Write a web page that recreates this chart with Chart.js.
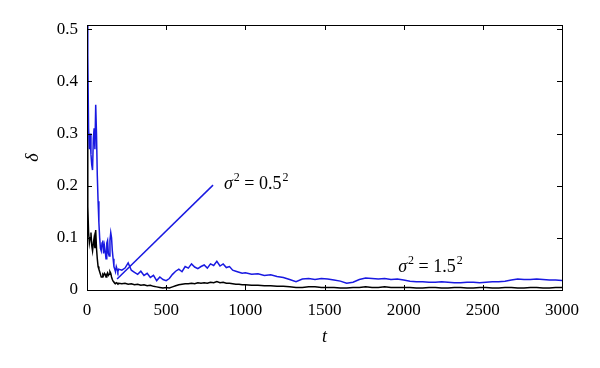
<!DOCTYPE html>
<html>
<head>
<meta charset="utf-8">
<script src="https://cdn.jsdelivr.net/npm/chart.js@4/dist/chart.umd.min.js"></script>
<style>
  body { margin: 0; background: #fff; }
  canvas { display: block; }
</style>
</head>
<body>
<canvas id="chart" width="600" height="368"></canvas>
<script>
// time steps (t)
const tEarly = [0, 5, 10, 15, 20, 25, 30, 35, 40, 45, 50, 55, 60, 65, 70, 75, 80, 85, 90, 95,
  100, 105, 110, 115, 120, 125, 130, 135, 140, 145, 150, 155, 160, 165, 170, 175, 180, 185, 190, 195, 200];
const tMid = [220, 240, 260, 280, 300, 320, 340, 360, 380, 400, 420, 440, 460, 480, 500, 520, 540, 560, 580, 600,
  620, 640, 660, 680, 700, 720, 740, 760, 780, 800, 820, 840, 860, 880, 900, 920, 940, 960, 980, 1000];
const tLate = [1040, 1080, 1120, 1160, 1200, 1240, 1280, 1320, 1360, 1400, 1440, 1480, 1520, 1560, 1600, 1640, 1680, 1720, 1760, 1800,
  1840, 1880, 1920, 1960, 2000, 2040, 2080, 2120, 2160, 2200, 2240, 2280, 2320, 2360, 2400, 2440, 2480, 2520, 2560, 2600,
  2640, 2680, 2720, 2760, 2800, 2840, 2880, 2920, 2960, 3000];
const tValues = tEarly.concat(tMid, tLate);

// delta, blue curve
const deltaBlue = [
  0.60, 0.45, 0.31, 0.27, 0.30, 0.26, 0.24, 0.23, 0.29, 0.31, 0.27, 0.355, 0.30, 0.22, 0.17, 0.13, 0.10, 0.08, 0.075, 0.09,
  0.095, 0.07, 0.085, 0.075, 0.06, 0.09, 0.095, 0.07, 0.065, 0.095, 0.11, 0.10, 0.075, 0.06, 0.045, 0.04, 0.035, 0.045, 0.04, 0.035, 0.04,
  0.038, 0.042, 0.052, 0.038, 0.034, 0.030, 0.036, 0.028, 0.032, 0.024, 0.028, 0.018, 0.025, 0.020, 0.018, 0.022, 0.030, 0.036, 0.040, 0.035,
  0.045, 0.042, 0.050, 0.044, 0.041, 0.045, 0.048, 0.042, 0.050, 0.047, 0.055, 0.046, 0.050, 0.043, 0.045, 0.038, 0.036, 0.034, 0.032, 0.033,
  0.030, 0.031, 0.028, 0.029, 0.026, 0.024, 0.020, 0.016, 0.021, 0.022, 0.020, 0.022, 0.021, 0.019, 0.017, 0.013, 0.015, 0.020, 0.023, 0.022,
  0.021, 0.022, 0.020, 0.021, 0.019, 0.017, 0.016, 0.016, 0.015, 0.015, 0.016, 0.015, 0.014, 0.014, 0.015, 0.015, 0.014, 0.015, 0.016, 0.016,
  0.017, 0.019, 0.021, 0.020, 0.020, 0.021, 0.020, 0.019, 0.019, 0.018];

// delta, black curve
const deltaBlack = [
  0.30, 0.16, 0.11, 0.09, 0.10, 0.11, 0.085, 0.075, 0.09, 0.10, 0.08, 0.115, 0.08, 0.06, 0.045, 0.04, 0.035, 0.03, 0.025, 0.025,
  0.03, 0.028, 0.032, 0.03, 0.025, 0.03, 0.033, 0.028, 0.03, 0.035, 0.032, 0.025, 0.02, 0.017, 0.015, 0.013, 0.012, 0.014, 0.013, 0.012, 0.013,
  0.012, 0.013, 0.011, 0.012, 0.010, 0.011, 0.009, 0.010, 0.008, 0.009, 0.007, 0.006, 0.005, 0.004, 0.005, 0.004, 0.006, 0.008, 0.010, 0.011,
  0.012, 0.012, 0.013, 0.012, 0.014, 0.013, 0.014, 0.013, 0.015, 0.014, 0.016, 0.014, 0.015, 0.013, 0.013, 0.012, 0.011, 0.011, 0.010, 0.010,
  0.009, 0.009, 0.008, 0.008, 0.007, 0.007, 0.006, 0.005, 0.005, 0.006, 0.006, 0.005, 0.005, 0.005, 0.004, 0.004, 0.005, 0.005, 0.006, 0.005,
  0.005, 0.006, 0.005, 0.005, 0.005, 0.005, 0.004, 0.004, 0.005, 0.005, 0.004, 0.004, 0.005, 0.005, 0.004, 0.004, 0.005, 0.005, 0.004, 0.004,
  0.005, 0.005, 0.004, 0.004, 0.005, 0.005, 0.004, 0.004, 0.005, 0.005];

// annotation pointer line and labels (data coordinates)
const pointerT = [190, 796];
const pointerDelta = [0.021, 0.201];
const labelLow = { t: 865, delta: 0.194, base: '0.5' };
const labelHigh = { t: 1965, delta: 0.034, base: '1.5' };

const xTicks = [0, 500, 1000, 1500, 2000, 2500, 3000];
const yTicks = [0, 0.1, 0.2, 0.3, 0.4, 0.5];

const FONT = '"Liberation Serif", "DejaVu Serif", serif';
const BLUE = 'rgb(25, 25, 225)';

const toPoints = (xs, ys) => xs.map((x, i) => ({ x: x, y: ys[i] }));

// MATLAB-style box with inward ticks on all four sides, plus sigma labels
const boxPlugin = {
  id: 'box',
  afterDatasetsDraw(chart) {
    const { ctx, chartArea: a, scales: { x, y } } = chart;
    ctx.save();
    ctx.strokeStyle = '#000';
    ctx.lineWidth = 1;
    ctx.strokeRect(a.left + 0.5, a.top + 0.5, a.right - a.left, a.bottom - a.top);
    ctx.beginPath();
    xTicks.forEach(v => {
      const px = Math.round(x.getPixelForValue(v)) + 0.5;
      ctx.moveTo(px, a.bottom); ctx.lineTo(px, a.bottom - 5);
      ctx.moveTo(px, a.top); ctx.lineTo(px, a.top + 5);
    });
    yTicks.forEach(v => {
      const py = Math.round(y.getPixelForValue(v)) + 0.5;
      ctx.moveTo(a.left, py); ctx.lineTo(a.left + 5, py);
      ctx.moveTo(a.right, py); ctx.lineTo(a.right - 5, py);
    });
    ctx.stroke();

    ctx.fillStyle = '#000';
    ctx.textBaseline = 'alphabetic';
    [labelLow, labelHigh].forEach(l => {
      let px = x.getPixelForValue(l.t);
      const py = y.getPixelForValue(l.delta);
      ctx.font = 'italic 18px ' + FONT;
      ctx.fillText('\u03c3', px, py);
      px += ctx.measureText('\u03c3').width;
      ctx.font = '12px ' + FONT;
      ctx.fillText('2', px + 1, py - 8);
      px += ctx.measureText('2').width + 1;
      ctx.font = '18px ' + FONT;
      const mid = ' = ' + l.base;
      ctx.fillText(mid, px, py);
      px += ctx.measureText(mid).width;
      ctx.font = '12px ' + FONT;
      ctx.fillText('2', px + 1, py - 8);
    });
    ctx.restore();
  }
};

new Chart(document.getElementById('chart'), {
  type: 'line',
  data: {
    datasets: [
      { data: toPoints(tValues, deltaBlue), borderColor: BLUE, borderWidth: 1.5, pointRadius: 0, tension: 0 },
      { data: toPoints(tValues, deltaBlack), borderColor: '#000', borderWidth: 1.5, pointRadius: 0, tension: 0 },
      { data: toPoints(pointerT, pointerDelta), borderColor: BLUE, borderWidth: 1.5, pointRadius: 0, tension: 0 }
    ]
  },
  options: {
    responsive: false,
    animation: false,
    events: [],
    layout: { padding: { left: 0, right: 38, top: 25, bottom: 0 } },
    plugins: { legend: { display: false }, tooltip: { enabled: false } },
    scales: {
      x: {
        type: 'linear',
        min: 0,
        max: 3000,
        afterBuildTicks: s => { s.ticks = xTicks.map(v => ({ value: v })); },
        afterFit: s => { s.height = 78; },
        grid: { display: false, drawTicks: false },
        border: { display: false },
        ticks: { padding: 10, color: '#000', font: { family: FONT, size: 17 }, callback: v => String(v) },
        title: { display: true, text: 't', color: '#000', padding: { bottom: 20 }, font: { family: FONT, size: 18, style: 'italic' } }
      },
      y: {
        type: 'linear',
        min: 0,
        max: 0.508,
        afterBuildTicks: s => { s.ticks = yTicks.map(v => ({ value: v })); },
        afterFit: s => { s.width = 87; },
        grid: { display: false, drawTicks: false },
        border: { display: false },
        ticks: { padding: 9, color: '#000', font: { family: FONT, size: 17 }, callback: v => String(v) },
        title: { display: true, text: '\u03b4', color: '#000', padding: { top: 22 }, font: { family: FONT, size: 18, style: 'italic' } }
      }
    }
  },
  plugins: [boxPlugin]
});
</script>
</body>
</html>
